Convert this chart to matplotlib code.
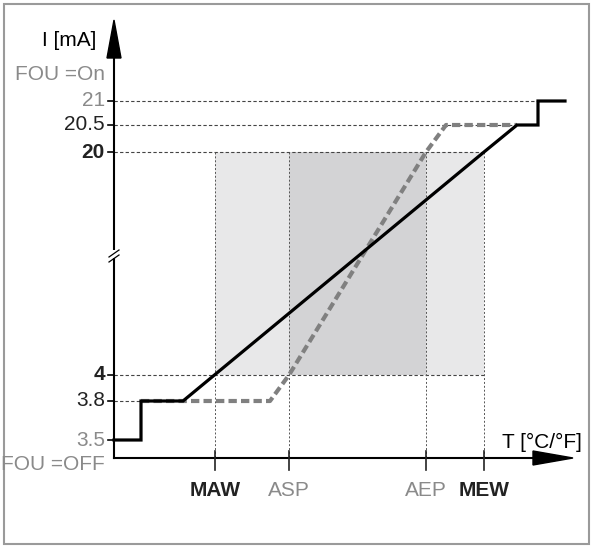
import matplotlib
matplotlib.use("Agg")
import matplotlib.pyplot as plt
from matplotlib.patches import Rectangle, Polygon

plt.rcParams["font.family"] = ["Liberation Sans Narrow", "DejaVu Sans Condensed", "Liberation Sans"]

# schematic positions (pixel space of the 593x548 drawing)
origin = (114, 458)
level_names = ["21", "20.5", "20", "4", "3.8", "3.5"]
level_y = [101, 125, 152, 375, 401, 440]
level_bold = [False, False, True, True, False, False]
level_grey = [True, False, False, False, False, True]
tick_names = ["MAW", "ASP", "AEP", "MEW"]
tick_x = [215, 289, 426, 484]
tick_bold = [True, False, False, True]

black_x = [114, 141, 141, 183, 484, 517, 538, 538, 565]
black_y = [440, 440, 401, 401, 152, 125, 125, 101, 101]
grey_x = [141, 270, 289, 426, 446, 517]
grey_y = [401, 401, 375, 152, 125, 125]

GREY = "#8a8a8a"
fig = plt.figure(figsize=(5.93, 5.48), dpi=100)
ax = fig.add_axes([0, 0, 1, 1])
ax.set_xlim(0, 593)
ax.set_ylim(548, 0)
ax.axis("off")

ax.add_patch(Rectangle((4, 4), 585, 540, fill=False, ec="#9a9a9a", lw=1.5))

# shaded regions
ax.add_patch(Rectangle((tick_x[0], level_y[2]), tick_x[3] - tick_x[0], level_y[3] - level_y[2],
                       fc="#e8e8e9", ec="none", zorder=0))
ax.add_patch(Rectangle((tick_x[1], level_y[2]), tick_x[2] - tick_x[1], level_y[3] - level_y[2],
                       fc="#d3d3d5", ec="none", zorder=0))

# guide lines
right_ends = [538, 517, 484, 484, 141, 114]
for y, xe in zip(level_y, right_ends):
    ax.plot([origin[0], xe], [y, y], color="#444", lw=0.8, ls=(0, (3, 2)), zorder=1)
for x in tick_x:
    ax.plot([x, x], [level_y[2], origin[1]], color="#555", lw=0.7, ls=(0, (2, 2)), zorder=1)

# axes with arrows
ax.plot([origin[0], origin[0]], [origin[1], 50], color="k", lw=1.5)
ax.add_patch(Polygon([[107, 58], [121, 58], [114, 20]], closed=True, color="k"))
ax.plot([origin[0], 545], [origin[1], origin[1]], color="k", lw=1.5)
ax.add_patch(Polygon([[533, 451], [533, 465], [573, 458]], closed=True, color="k"))
# axis break
ax.add_patch(Rectangle((110, 250), 8, 8, fc="white", ec="none", zorder=3))
for dy in (0, 5):
    ax.plot([109, 119], [259 + dy - 2, 250 + dy], color="k", lw=0.9, zorder=4)

# ticks
for y in level_y:
    ax.plot([108, 114], [y, y], color="k", lw=1.2)
for x in tick_x:
    ax.plot([x, x], [451, 470], color="#222", lw=1.2)

# curves
ax.plot(grey_x, grey_y, color="#808080", lw=3.0, ls=(0, (2.0, 1.0)), zorder=5)
ax.plot(black_x, black_y, color="k", lw=2.3, zorder=6, solid_joinstyle="miter")

fs = 15
for name, y, b, g in zip(level_names, level_y, level_bold, level_grey):
    ax.text(105, y, name, ha="right", va="center", fontsize=fs,
            fontweight="bold" if b else "normal", color=GREY if g else "#222")
for name, x, b in zip(tick_names, tick_x, tick_bold):
    ax.text(x, 491, name, ha="center", va="center", fontsize=fs,
            fontweight="bold" if b else "normal", color="#222" if b else GREY)
ax.text(96, 40, "I [mA]", ha="right", va="center", fontsize=fs)
ax.text(105, 74, "FOU =On", ha="right", va="center", fontsize=fs, color=GREY)
ax.text(105, 464, "FOU =OFF", ha="right", va="center", fontsize=fs, color=GREY)
ax.text(582, 442, "T [°C/°F]", ha="right", va="center", fontsize=fs)

fig.savefig("out.png", dpi=100)
